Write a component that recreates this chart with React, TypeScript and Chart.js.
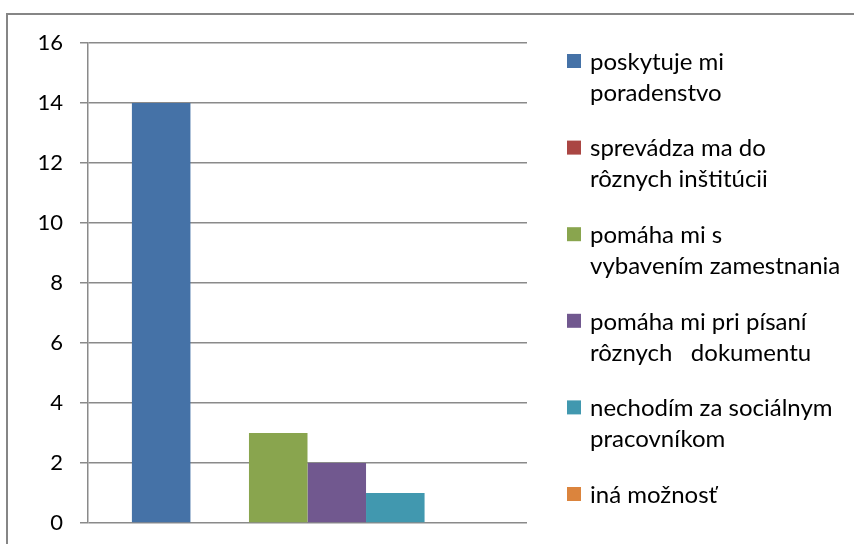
import React, { useEffect, useRef } from "react";
import { Chart, registerables } from "chart.js";

Chart.register(...registerables);

const categories: string[] = [""];
const seriesLabels: string[] = [
  "poskytuje mi poradenstvo",
  "sprevádza ma do rôznych inštitúcii",
  "pomáha mi s vybavením zamestnania",
  "pomáha mi pri písaní rôznych   dokumentu",
  "nechodím za sociálnym pracovníkom",
  "iná možnosť",
];
const legendLines: string[][] = [
  ["poskytuje mi", "poradenstvo"],
  ["sprevádza ma do", "rôznych inštitúcii"],
  ["pomáha mi s", "vybavením zamestnania"],
  ["pomáha mi pri písaní", "rôznych   dokumentu"],
  ["nechodím za sociálnym", "pracovníkom"],
  ["iná možnosť"],
];
const seriesValues: number[] = [14, 0, 3, 2, 1, 0];
const seriesColors: string[] = ["#4572A7", "#AA4643", "#89A54E", "#71588F", "#4198AF", "#DB843D"];
const yMin = 0;
const yMax = 16;
const yStep = 2;

const FONT = "Lato, 'Liberation Sans', sans-serif";

const framePlugin = {
  id: "frame",
  beforeDraw(chart: any) {
    const ctx = chart.ctx;
    ctx.save();
    ctx.fillStyle = "#ffffff";
    ctx.fillRect(0, 0, chart.width, chart.height);
    ctx.strokeStyle = "#868686";
    ctx.lineWidth = 2;
    ctx.strokeRect(7, 14, chart.width + 20, chart.height + 20);
    ctx.restore();
  },
};

const legendPlugin = {
  id: "customLegend",
  afterDraw(chart: any) {
    const ctx = chart.ctx;
    ctx.save();
    const boxX = 567;
    const textX = 590;
    const startY = 61;
    const step = 86.6;
    const lineH = 31;
    ctx.font = `24px ${FONT}`;
    ctx.textBaseline = "middle";
    ctx.textAlign = "left";
    chart.data.datasets.forEach((ds: any, i: number) => {
      const cy = startY + i * step;
      ctx.fillStyle = ds.backgroundColor;
      ctx.fillRect(boxX, cy - 7, 14, 14);
      ctx.fillStyle = "#000000";
      legendLines[i].forEach((line, j) => {
        ctx.fillText(line, textX, cy + 1 + j * lineH);
      });
    });
    ctx.restore();
  },
};

export default function App() {
  const canvasRef = useRef<HTMLCanvasElement | null>(null);

  useEffect(() => {
    if (!canvasRef.current) return;
    const chart = new Chart(canvasRef.current, {
      type: "bar",
      data: {
        labels: categories,
        datasets: seriesLabels.map((label, i) => ({
          label,
          data: [seriesValues[i]],
          backgroundColor: seriesColors[i],
          borderWidth: 0,
          categoryPercentage: 0.8,
          barPercentage: 1.0,
        })),
      },
      options: {
        responsive: false,
        animation: false,
        layout: { padding: { left: 0, top: 43, right: 327, bottom: 21 } },
        plugins: {
          legend: { display: false },
          tooltip: { enabled: false },
          title: { display: false },
        },
        scales: {
          x: {
            display: false,
            grid: { display: false },
          },
          y: {
            min: yMin,
            max: yMax,
            ticks: {
              stepSize: yStep,
              padding: 17,
              color: "#000000",
              font: { family: FONT, size: 22 },
            },
            grid: {
              color: "#8a8a8a",
              lineWidth: 1.5,
              tickLength: 8,
            },
            border: { display: true, color: "#8a8a8a", width: 1.5 },
            afterFit(scale: any) {
              scale.width = 88;
              scale.paddingTop = 0;
              scale.paddingBottom = 0;
            },
          },
        },
      },
      plugins: [framePlugin, legendPlugin],
    });
    return () => chart.destroy();
  }, []);

  return (
    <div style={{ position: "absolute", left: 0, top: 0, width: 854, height: 544 }}>
      <canvas ref={canvasRef} width={854} height={544} style={{ display: "block" }} />
    </div>
  );
}
